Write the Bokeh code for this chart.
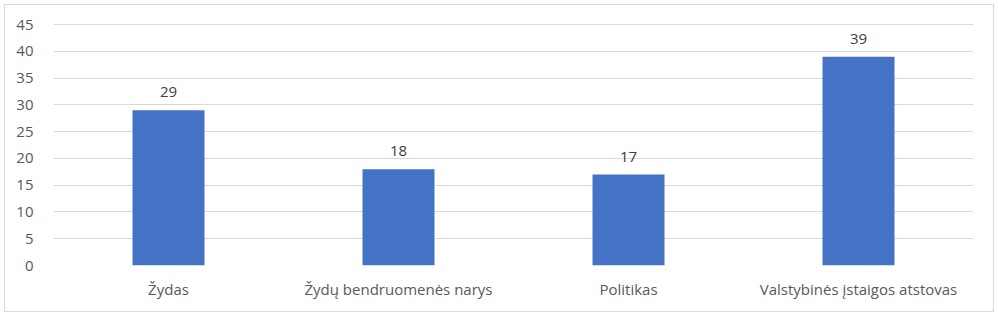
from bokeh.plotting import figure
from bokeh.models import ColumnDataSource, Range1d, FixedTicker, LabelSet
from bokeh.core.properties import value
from bokeh.embed import file_html
from bokeh.resources import INLINE

categories = ["Žydas", "Žydų bendruomenės narys", "Politikas", "Valstybinės įstaigos atstovas"]
values = [29, 18, 17, 39]
y_ticks = [0, 5, 10, 15, 20, 25, 30, 35, 40, 45]

FONT = "Open Sans"
TXT = "#595959"

src = ColumnDataSource(dict(cat=categories, val=values, lab=[str(v) for v in values]))

p = figure(x_range=categories, y_range=Range1d(0, 45.4), width=990, height=308,
           output_backend="svg", toolbar_location=None,
           min_border_left=48, min_border_right=22, min_border_top=17, min_border_bottom=48)
p.styles = {"margin-left": "4px", "margin-top": "4px", "border": "1px solid #d9d9d9"}
p.outline_line_color = None
p.background_fill_color = "white"
p.border_fill_color = "white"

p.vbar(x="cat", top="val", width=0.313, source=src, color="#4472C4", line_color=None)

labels = LabelSet(x="cat", y="val", text="lab", source=src, text_align="center",
                  text_baseline="bottom", y_offset=13, text_font=value(FONT),
                  text_font_size="15px", text_color="#404040")
p.add_layout(labels)

p.xgrid.grid_line_color = None
p.ygrid.grid_line_color = "#d9d9d9"
p.ygrid.grid_line_width = 1
p.yaxis.ticker = FixedTicker(ticks=y_ticks)

for ax in (p.xaxis[0], p.yaxis[0]):
    ax.axis_line_color = None
    ax.major_tick_line_color = None
    ax.minor_tick_line_color = None
    ax.major_label_text_font = FONT
    ax.major_label_text_font_size = "15px"
    ax.major_label_text_color = TXT
p.yaxis.major_label_standoff = 14
p.xaxis.major_label_standoff = 7

open("out.html", "w").write(file_html(p, INLINE))
